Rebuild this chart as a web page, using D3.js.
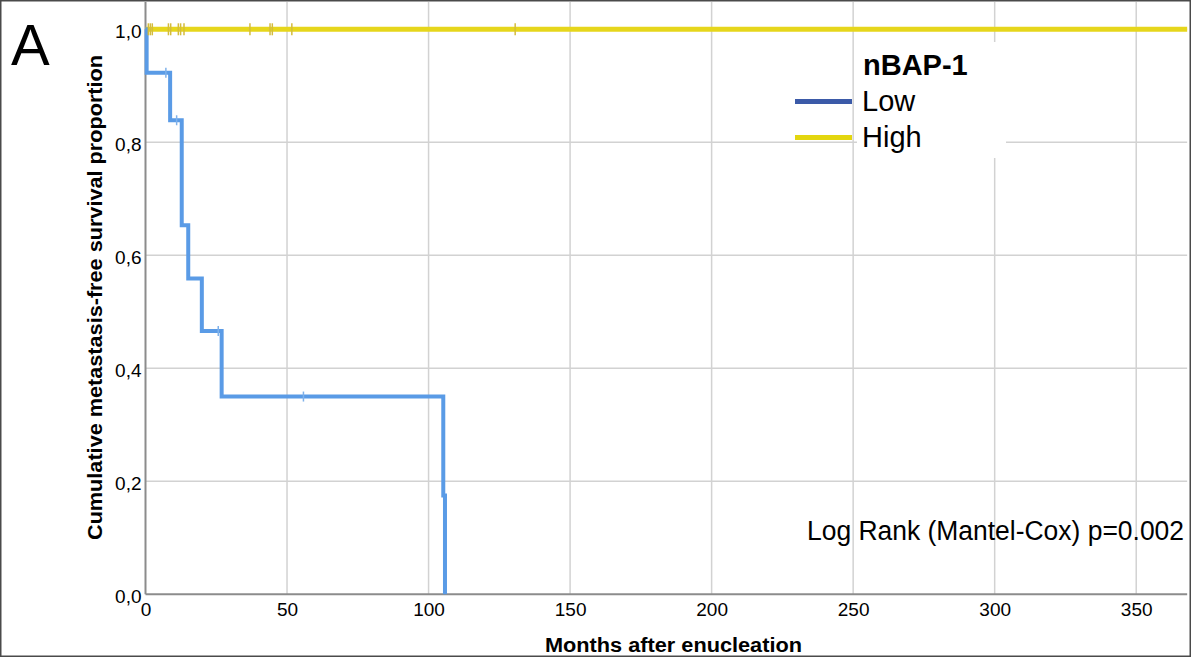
<!DOCTYPE html>
<html lang="en">
<head>
<meta charset="utf-8">
<title>Metastasis-free survival by nBAP-1</title>
<script src="https://d3js.org/d3.v7.min.js"></script>
<style>
    body { margin: 0; background: #fff; }
</style>
</head>
<body>
<div id="mainDiv"></div>
<script type="text/javascript">
    // Kaplan-Meier steps
    const lowTimes = [0, 0.4, 8.7, 12.8, 15.1, 19.9, 26.9, 105.2, 105.8]
    const lowSurvival = [1, 0.923, 0.839, 0.653, 0.559, 0.466, 0.350, 0.175, 0]
    const lowCensorTimes = [7.2, 11.0, 25.7, 55.8]
    const lowCensorSurvival = [0.923, 0.839, 0.466, 0.350]

    const highTimes = [0, 368]
    const highSurvival = [1, 1]
    const highCensorTimes = [1.0, 1.7, 2.4, 8.1, 8.9, 11.6, 12.4, 13.6, 36.9, 44.0, 44.8, 51.7, 130.6]

    const xTicks = [0, 50, 100, 150, 200, 250, 300, 350]
    const yTicks = [0, 0.2, 0.4, 0.6, 0.8, 1.0]
    const groupNames = ['Low', 'High']
    const legendTitle = 'nBAP-1'
    const statText = 'Log Rank (Mantel-Cox) p=0.002'

    const width = 1191
    const height = 657
    const font = '"Liberation Sans", Arial, sans-serif'

    const margins = { top: 2, left: 145.5, right: 4, bottom: 62.7 }
    const pxPerMonth = 2.8306

    const svg = d3.select('#mainDiv').append('svg')
        .attr('width', width)
        .attr('height', height)
        .style('display', 'block')

    svg.append('rect')
        .attr('x', 0.75).attr('y', 0.75)
        .attr('width', width - 1.5).attr('height', height - 1.5)
        .attr('fill', '#fff')
        .attr('stroke', '#4a4a4a')
        .attr('stroke-width', 1.5)

    const xScale = d3.scaleLinear()
        .domain([0, 368])
        .range([margins.left, margins.left + 368 * pxPerMonth])
    const yScale = d3.scaleLinear()
        .domain([0, 1])
        .range([594.3, 29.3])

    const xEnd = xScale(368)

    // grid
    const grid = svg.append('g').attr('stroke', '#d2d2d2').attr('stroke-width', 1.5)
    grid.selectAll('.vgrid')
        .data(xTicks.filter(d => d > 0))
        .join('line')
        .attr('x1', d => xScale(d)).attr('x2', d => xScale(d))
        .attr('y1', margins.top).attr('y2', yScale(0))
    grid.selectAll('.hgrid')
        .data(yTicks.filter(d => d > 0))
        .join('line')
        .attr('x1', xScale(0)).attr('x2', xEnd)
        .attr('y1', d => yScale(d)).attr('y2', d => yScale(d))

    // white legend box hides the grid behind the labels
    svg.append('rect')
        .attr('x', 857).attr('y', 42)
        .attr('width', 149).attr('height', 116)
        .attr('fill', '#fff')

    // axes
    const yAxis = d3.axisLeft(yScale)
        .tickValues(yTicks)
        .tickSize(0)
        .tickPadding(4)
        .tickFormat(d => d3.format('.1f')(d).replace('.', ','))
    const xAxis = d3.axisBottom(xScale)
        .tickValues(xTicks)
        .tickSize(0)
        .tickFormat(d3.format('d'))

    const yAxisPlot = svg.append('g')
        .attr('transform', `translate(${xScale(0)},0)`)
        .call(yAxis)
    yAxisPlot.select('.domain').remove()
    yAxisPlot.attr('font-family', font).attr('font-size', 19)
    yAxisPlot.selectAll('text').attr('fill', '#000').attr('dy', '0.44em')

    const xAxisPlot = svg.append('g')
        .attr('transform', `translate(0,${yScale(0)})`)
        .call(xAxis)
    xAxisPlot.select('.domain').remove()
    xAxisPlot.attr('font-family', font).attr('font-size', 19)
    xAxisPlot.selectAll('text').attr('fill', '#000').attr('y', 22).attr('dy', 0)

    svg.append('line')
        .attr('x1', xScale(0)).attr('x2', xScale(0))
        .attr('y1', margins.top).attr('y2', yScale(0))
        .attr('stroke', '#8c8c8c').attr('stroke-width', 2)
    svg.append('line')
        .attr('x1', xScale(0)).attr('x2', xEnd)
        .attr('y1', yScale(0)).attr('y2', yScale(0))
        .attr('stroke', '#8c8c8c').attr('stroke-width', 2)

    // survival curves
    const step = d3.line()
        .x(d => xScale(d[0]))
        .y(d => yScale(d[1]))
        .curve(d3.curveStepAfter)

    svg.append('path')
        .datum(highTimes.map((t, i) => [t, highSurvival[i]]))
        .attr('d', step)
        .attr('fill', 'none')
        .attr('stroke', '#e6d61c')
        .attr('stroke-width', 5)

    svg.append('path')
        .datum(lowTimes.map((t, i) => [t, lowSurvival[i]]))
        .attr('d', step)
        .attr('fill', 'none')
        .attr('stroke', '#5a9be6')
        .attr('stroke-width', 4)
        .attr('stroke-linejoin', 'miter')

    svg.append('g').selectAll('line')
        .data(highCensorTimes)
        .join('line')
        .attr('x1', d => xScale(d)).attr('x2', d => xScale(d))
        .attr('y1', yScale(1) - 6).attr('y2', yScale(1) + 6)
        .attr('stroke', '#d4bc3c')
        .attr('stroke-width', 1.5)

    svg.append('g').selectAll('line')
        .data(lowCensorTimes)
        .join('line')
        .attr('x1', d => xScale(d)).attr('x2', d => xScale(d))
        .attr('y1', (d, i) => yScale(lowCensorSurvival[i]) - 5)
        .attr('y2', (d, i) => yScale(lowCensorSurvival[i]) + 5)
        .attr('stroke', '#7fb1ea')
        .attr('stroke-width', 1.5)

    // legend
    const legendColors = ['#3b5aa8', '#e3d60f']
    const legend = svg.append('g').attr('font-family', font)
    legend.append('text')
        .attr('x', 863).attr('y', 75)
        .attr('font-size', 29)
        .attr('font-weight', 'bold')
        .attr('fill', '#000')
        .text(legendTitle)
    groupNames.forEach((name, i) => {
        const yBase = 111 + i * 36
        legend.append('line')
            .attr('x1', 795).attr('x2', 852)
            .attr('y1', yBase - 9.5).attr('y2', yBase - 9.5)
            .attr('stroke', legendColors[i])
            .attr('stroke-width', 5)
        legend.append('text')
            .attr('x', 862).attr('y', yBase)
            .attr('font-size', 29)
            .attr('fill', '#000')
            .text(name)
    })

    svg.append('text')
        .attr('x', 1184).attr('y', 540)
        .attr('text-anchor', 'end')
        .attr('font-family', font)
        .attr('font-size', 27)
        .attr('textLength', 377)
        .attr('lengthAdjust', 'spacingAndGlyphs')
        .attr('fill', '#000')
        .text(statText)

    svg.append('text')
        .attr('x', 11).attr('y', 65)
        .attr('font-family', font)
        .attr('font-size', 58)
        .attr('fill', '#000')
        .text('A')

    // axis titles
    svg.append('text')
        .attr('x', 673.5).attr('y', 652)
        .attr('text-anchor', 'middle')
        .attr('font-family', font)
        .attr('font-size', 20)
        .attr('font-weight', 'bold')
        .attr('textLength', 257)
        .attr('lengthAdjust', 'spacingAndGlyphs')
        .attr('fill', '#000')
        .text('Months after enucleation')

    svg.append('text')
        .attr('transform', 'translate(102,297.5) rotate(-90)')
        .attr('text-anchor', 'middle')
        .attr('font-family', font)
        .attr('font-size', 20)
        .attr('font-weight', 'bold')
        .attr('textLength', 485)
        .attr('lengthAdjust', 'spacingAndGlyphs')
        .attr('fill', '#000')
        .text('Cumulative metastasis-free survival proportion')
</script>
</body>
</html>
